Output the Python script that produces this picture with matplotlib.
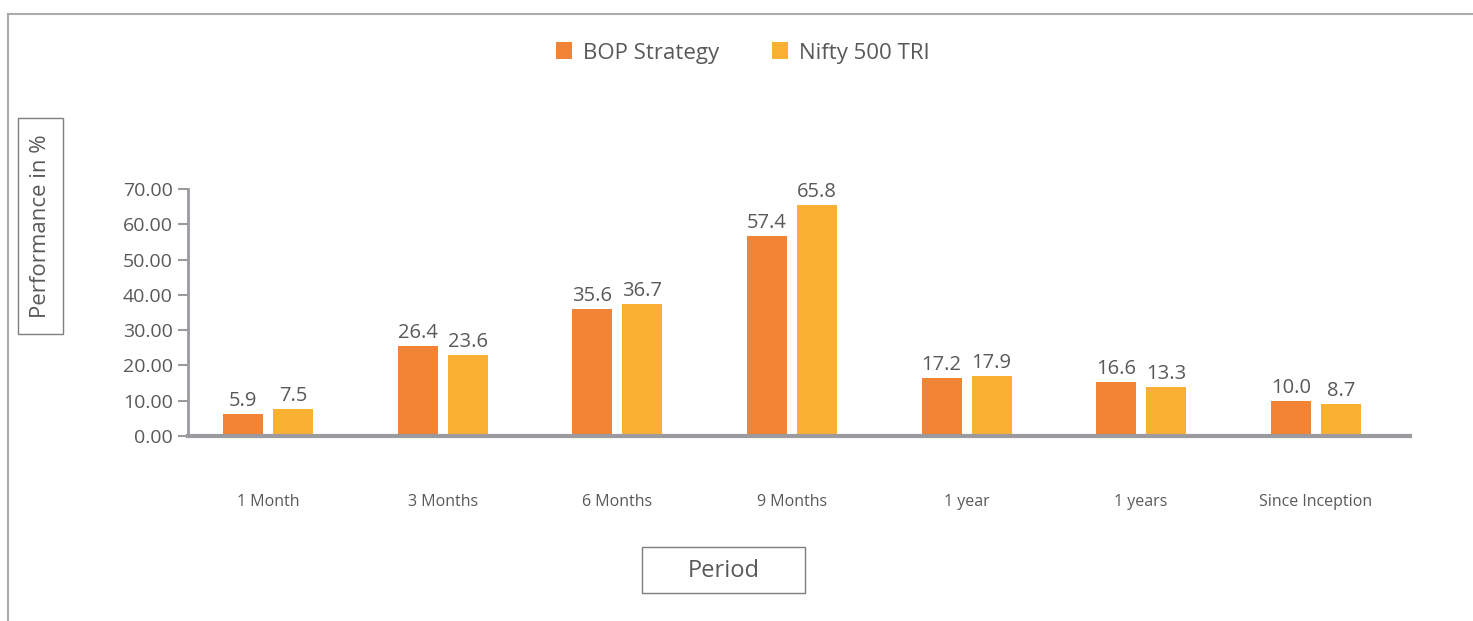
import matplotlib.pyplot as plt
from matplotlib.patches import Rectangle
from matplotlib.lines import Line2D
import numpy as np

periods = ['1 Month', '3 Months', '6 Months', '9 Months', '1 year', '1 years', 'Since Inception']
# bar heights as drawn
bop_values = [6.2, 25.5, 36.0, 56.7, 16.4, 15.3, 9.9]
nifty_values = [7.6, 23.0, 37.4, 65.5, 17.0, 13.9, 9.1]
# data labels as printed on the chart
bop_labels = ['5.9', '26.4', '35.6', '57.4', '17.2', '16.6', '10.0']
nifty_labels = ['7.5', '23.6', '36.7', '65.8', '17.9', '13.3', '8.7']
y_ticks = [0, 10, 20, 30, 40, 50, 60, 70]

plt.rcParams['font.family'] = ['Open Sans', 'DejaVu Sans']
text_color = '#595959'
c_bop = '#F28436'
c_nifty = '#FAB032'
axis_gray = '#9B9B9F'

fig = plt.figure(figsize=(14.73, 6.21), dpi=100)
W, H = 1473, 621
ax = fig.add_axes([188 / W, (H - 436) / H, (1410 - 188) / W, (436 - 189) / H])

x = np.arange(len(periods))
bw = 0.229
off = 0.143
b1 = ax.bar(x - off, bop_values, bw, color=c_bop, label='BOP Strategy')
b2 = ax.bar(x + off, nifty_values, bw, color=c_nifty, label='Nifty 500 TRI')

for bars, labels in ((b1, bop_labels), (b2, nifty_labels)):
    for rect, lab in zip(bars, labels):
        ax.annotate(lab, (rect.get_x() + rect.get_width() / 2, rect.get_height()),
                    xytext=(0, 8), textcoords='offset pixels', ha='center', va='baseline',
                    fontsize=14.5, color=text_color)

ax.set_xlim(-0.46, len(periods) - 0.46)
ax.set_ylim(0, 70)
ax.set_yticks(y_ticks)
ax.set_yticklabels([f'{v:.2f}' for v in y_ticks])
ax.set_xticks(x)
ax.set_xticklabels(periods)
ax.tick_params(axis='x', length=0, pad=42, labelsize=11.5, labelcolor=text_color)
ax.tick_params(axis='y', length=7, width=1.5, color=axis_gray, pad=4, labelsize=14, labelcolor=text_color)
for s in ('top', 'right'):
    ax.spines[s].set_visible(False)
ax.spines['left'].set_color(axis_gray)
ax.spines['left'].set_linewidth(2)
ax.spines['bottom'].set_color(axis_gray)
ax.spines['bottom'].set_linewidth(3)

leg = fig.legend(handles=[b1, b2], loc='center', bbox_to_anchor=(743 / W, (H - 53) / H),
                 ncol=2, frameon=False, fontsize=16, handlelength=0.7, handleheight=0.8,
                 handletextpad=0.5, columnspacing=2.4)
for t in leg.get_texts():
    t.set_color(text_color)

# outer chart frame
fig.add_artist(Line2D([8 / W, 1.0], [(H - 14) / H] * 2, color='#ABABAB', lw=1.5))
fig.add_artist(Line2D([8 / W] * 2, [0, (H - 14) / H], color='#ABABAB', lw=1.5))

# axis title boxes
fig.add_artist(Rectangle((18 / W, (H - 334) / H), 45 / W, 216 / H, fill=False,
                         edgecolor='#7F7F7F', lw=1))
fig.text(40.5 / W, (H - 226) / H, 'Performance in %', rotation=90, ha='center', va='center',
         fontsize=16, color=text_color)
fig.add_artist(Rectangle((642 / W, (H - 593) / H), 163 / W, 46 / H, fill=False,
                         edgecolor='#7F7F7F', lw=1))
fig.text(723.5 / W, (H - 571) / H, 'Period', ha='center', va='center',
         fontsize=17, color=text_color)

fig.savefig('out.png', dpi=100)
